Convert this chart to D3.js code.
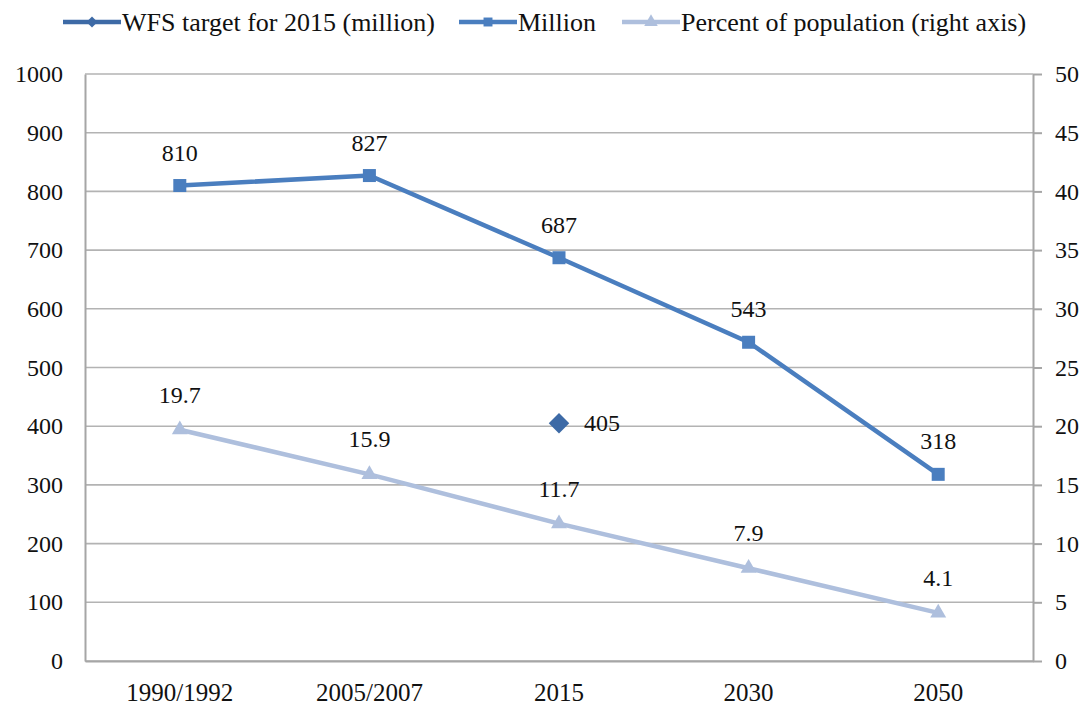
<!DOCTYPE html>
<html>
<head>
<meta charset="utf-8">
<script src="https://cdn.jsdelivr.net/npm/d3@7"></script>
<style>
  html, body { margin: 0; padding: 0; background: #fff; }
</style>
</head>
<body>
<svg id="chart" width="1088" height="706"></svg>
<script>
// Undernourished people in developing countries
const categories = ["1990/1992", "2005/2007", "2015", "2030", "2050"];
const millionValues = [810, 827, 687, 543, 318];
const percentValues = [19.7, 15.9, 11.7, 7.9, 4.1];
const wfsTarget = [{ category: "2015", value: 405 }];
const leftTicks = [0, 100, 200, 300, 400, 500, 600, 700, 800, 900, 1000];
const rightTicks = [0, 5, 10, 15, 20, 25, 30, 35, 40, 45, 50];
const legendLabels = ["WFS target for 2015 (million)", "Million", "Percent of population (right axis)"];

const FONT = "Liberation Serif";
const TEXT = "#111111";
const colors = { wfs: "#3d6aa6", million: "#4a7ebf", percent: "#aebfdd", grid: "#b3b3b3", axis: "#a6a6a6" };

const svg = d3.select("#chart");
const margin = { left: 85, right: 1033, top: 74, bottom: 661 };

const x = d3.scaleBand().domain(categories).range([margin.left, margin.right]);
const yLeft = d3.scaleLinear().domain([0, 1000]).range([margin.bottom, margin.top]);
const yRight = d3.scaleLinear().domain([0, 50]).range([margin.bottom, margin.top]);
const cx = c => x(c) + x.bandwidth() / 2;

// Shared text styling: serif face, pixel size, dark fill
function serif(sel, size) {
  return sel.attr("font-family", FONT).style("font-size", size + "px").attr("fill", TEXT);
}

// Horizontal gridlines
svg.append("g").selectAll("line").data(leftTicks).join("line")
  .attr("x1", margin.left).attr("x2", margin.right)
  .attr("y1", d => yLeft(d)).attr("y2", d => yLeft(d))
  .attr("stroke", colors.grid).attr("stroke-width", 1.6);

function styleAxis(g, size) {
  g.attr("font-family", null).attr("font-size", null);
  g.select(".domain").attr("stroke", colors.axis).attr("stroke-width", 2);
  serif(g.selectAll("text"), size);
}

// Left axis
const leftAxis = svg.append("g").attr("transform", `translate(${margin.left},0)`)
  .call(d3.axisLeft(yLeft).tickValues(leftTicks).tickFormat(d3.format("d")).tickSize(0).tickPadding(22));
styleAxis(leftAxis, 24);

// Right axis
const rightAxis = svg.append("g").attr("transform", `translate(${margin.right},0)`)
  .call(d3.axisRight(yRight).tickValues(rightTicks).tickSize(9).tickSizeOuter(0).tickPadding(13));
styleAxis(rightAxis, 24);
rightAxis.selectAll(".tick line").attr("stroke", colors.axis).attr("stroke-width", 2);

// Bottom axis
const bottomAxis = svg.append("g").attr("transform", `translate(0,${margin.bottom})`)
  .call(d3.axisBottom(x).tickSize(0).tickPadding(22));
styleAxis(bottomAxis, 25);

// Percent of population (right axis)
const percentData = categories.map((c, i) => ({ c, v: percentValues[i] }));
svg.append("path").datum(percentData)
  .attr("fill", "none").attr("stroke", colors.percent).attr("stroke-width", 4.5)
  .attr("d", d3.line().x(d => cx(d.c)).y(d => yRight(d.v)));
svg.append("g").selectAll("path").data(percentData).join("path")
  .attr("transform", d => `translate(${cx(d.c)},${yRight(d.v)})`)
  .attr("d", d3.symbol(d3.symbolTriangle, 110))
  .attr("fill", colors.percent);
serif(svg.append("g").selectAll("text").data(percentData).join("text")
  .attr("x", d => cx(d.c)).attr("y", d => yRight(d.v) - 27)
  .attr("text-anchor", "middle"), 24)
  .text(d => d.v.toFixed(1));

// Million
const millionData = categories.map((c, i) => ({ c, v: millionValues[i] }));
svg.append("path").datum(millionData)
  .attr("fill", "none").attr("stroke", colors.million).attr("stroke-width", 4.5)
  .attr("d", d3.line().x(d => cx(d.c)).y(d => yLeft(d.v)));
svg.append("g").selectAll("rect").data(millionData).join("rect")
  .attr("x", d => cx(d.c) - 6.5).attr("y", d => yLeft(d.v) - 6.5)
  .attr("width", 13).attr("height", 13).attr("fill", colors.million);
serif(svg.append("g").selectAll("text").data(millionData).join("text")
  .attr("x", d => cx(d.c)).attr("y", d => yLeft(d.v) - 25)
  .attr("text-anchor", "middle"), 24)
  .text(d => d.v);

// WFS target for 2015 (diamond = rotated square)
svg.append("g").selectAll("path").data(wfsTarget).join("path")
  .attr("transform", d => `translate(${cx(d.category)},${yLeft(d.value)}) rotate(45)`)
  .attr("d", d3.symbol(d3.symbolSquare, 210))
  .attr("fill", colors.wfs);
serif(svg.append("g").selectAll("text").data(wfsTarget).join("text")
  .attr("x", d => cx(d.category) + 25).attr("y", d => yLeft(d.value) + 8), 24)
  .text(d => d.value);

// Legend
const legendItems = [
  { label: legendLabels[0], color: colors.wfs, marker: "diamond", x: 63 },
  { label: legendLabels[1], color: colors.million, marker: "square", x: 459 },
  { label: legendLabels[2], color: colors.percent, marker: "triangle", x: 622 }
];
const legend = svg.append("g").attr("transform", "translate(0,22)");
legendItems.forEach(item => {
  const g = legend.append("g").attr("transform", `translate(${item.x},0)`);
  g.append("line").attr("x1", 0).attr("x2", 58).attr("y1", 0).attr("y2", 0)
    .attr("stroke", item.color).attr("stroke-width", 4.5);
  const p = g.append("path").attr("fill", item.color);
  if (item.marker === "diamond") {
    p.attr("transform", "translate(29,0) rotate(45)").attr("d", d3.symbol(d3.symbolSquare, 60));
  } else if (item.marker === "square") {
    p.attr("transform", "translate(29,0)").attr("d", d3.symbol(d3.symbolSquare, 80));
  } else {
    p.attr("transform", "translate(29,0)").attr("d", d3.symbol(d3.symbolTriangle, 80));
  }
  serif(g.append("text").attr("x", 59).attr("y", 9), 26).text(item.label);
});
</script>
</body>
</html>
